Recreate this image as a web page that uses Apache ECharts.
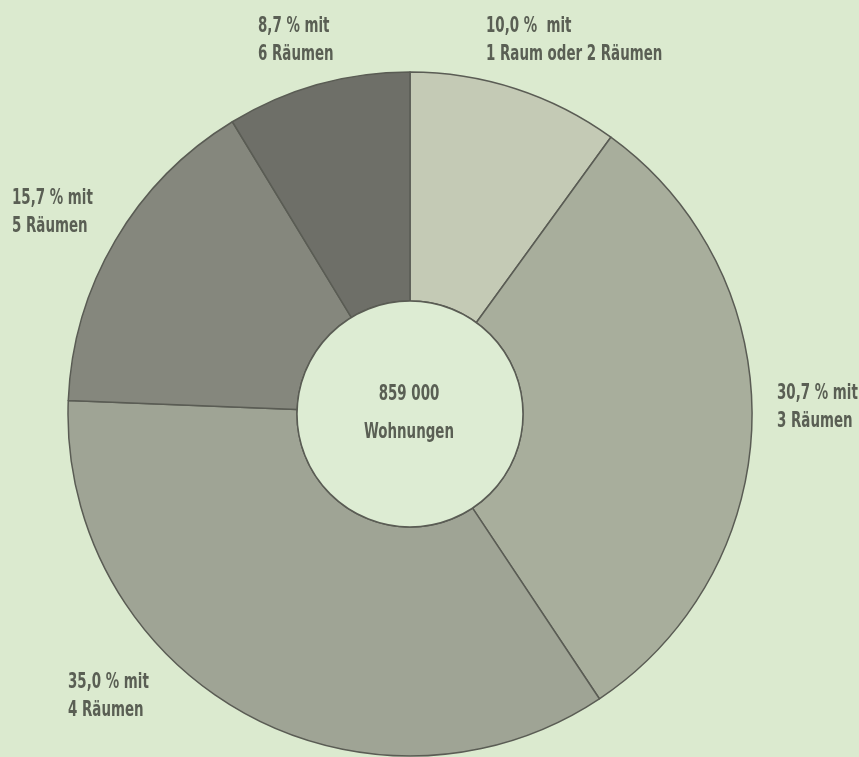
<!DOCTYPE html>
<html><head><meta charset="utf-8">
<style>html,body{margin:0;padding:0;background:#dbeacf;}#c{width:859px;height:757px;}</style>
<script src="https://cdn.jsdelivr.net/npm/echarts@6/dist/echarts.min.js"></script>
</head><body><div id="c"></div>
<script>
const categories = ['1 Raum oder 2 Räumen', '3 Räumen', '4 Räumen', '5 Räumen', '6 Räumen'];
const shares = [10.0, 30.7, 35.0, 15.7, 8.7];
const shareLabels = ['10,0 %  mit', '30,7 % mit', '35,0 % mit', '15,7 % mit', '8,7 % mit'];
const totalLabel = '859 000';
const totalUnit = 'Wohnungen';

const colors = ['#c4cab5', '#a8ae9c', '#9fa495', '#85877d', '#6e6f68'];
const labelPos = [[486, 13], [777, 380], [68, 669], [12, 185], [258, 13]];
const font = '"DejaVu Sans Condensed", "Liberation Sans Narrow", sans-serif';
const textColor = '#5a5f54';
const sx = 0.71;

const labelElems = shares.map((v, i) => ({
  type: 'text',
  x: labelPos[i][0], y: labelPos[i][1],
  scaleX: sx, scaleY: 1,
  z: 100, zlevel: 0,
  silent: true,
  style: {
    text: shareLabels[i] + '\n' + categories[i],
    fill: textColor, font: 'bold 21px ' + font,
    lineHeight: 28, textAlign: 'left', textVerticalAlign: 'top'
  }
}));
labelElems.push({
  type: 'text', x: 409, y: 376, scaleX: sx, scaleY: 1, silent: true,
  z: 100, zlevel: 0,
  style: {
    text: totalLabel + '\n' + totalUnit, fill: textColor, font: 'bold 21px ' + font,
    lineHeight: 38, textAlign: 'center', textVerticalAlign: 'top'
  }
});

const chart = echarts.init(document.getElementById('c'));
chart.setOption({
  backgroundColor: '#dbeacf',
  animation: false,
  graphic: {elements: labelElems},
  series: [{
    type: 'pie',
    center: [410, 414],
    radius: [113, 342],
    startAngle: 90,
    clockwise: true,
    silent: true,
    z: 1,
    itemStyle: {borderColor: '#5a5c54', borderWidth: 1.5},
    labelLine: {show: false},
    label: {show: false},
    data: shares.map((v, i) => ({value: v, name: categories[i], itemStyle: {color: colors[i]}}))
  }, {
    type: 'pie',
    center: [410, 414],
    radius: [0, 113],
    silent: true,
    z: 1,
    itemStyle: {color: '#ddecd3', borderColor: '#5a5c54', borderWidth: 1.5},
    label: {show: false},
    labelLine: {show: false},
    data: [{value: 1, name: 'Wohnungen insgesamt'}]
  }]
});
</script></body></html>
